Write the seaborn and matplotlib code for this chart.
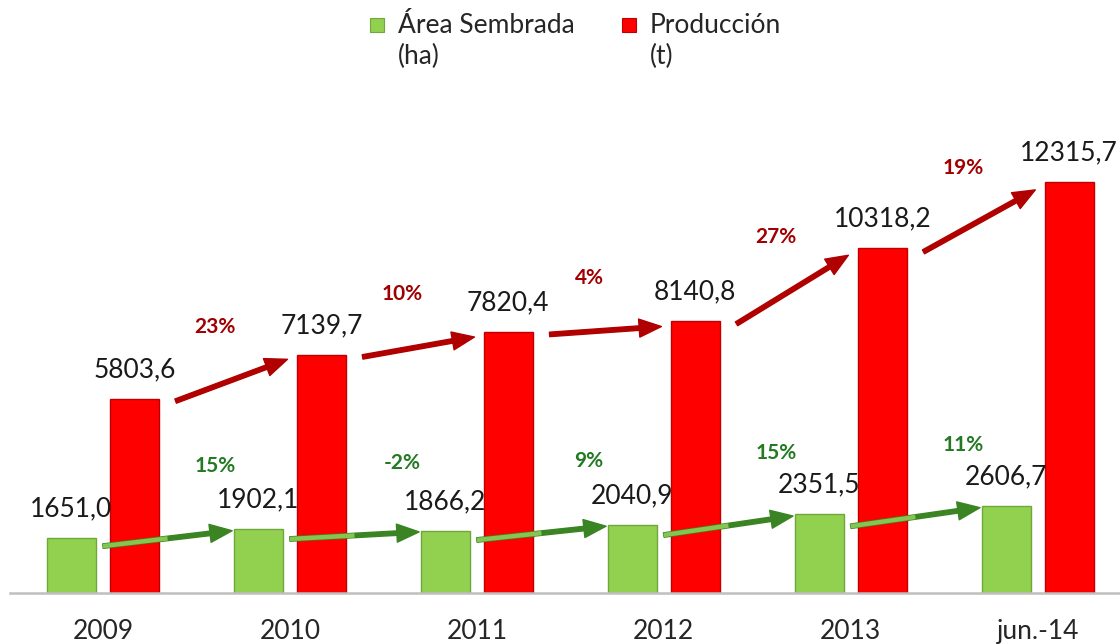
import pandas as pd
import numpy as np
import seaborn as sns
import matplotlib.pyplot as plt
from matplotlib.patches import Rectangle

# Data
periodos = ["2009", "2010", "2011", "2012", "2013", "jun.-14"]
area_sembrada = [1651.0, 1902.1, 1866.2, 2040.9, 2351.5, 2606.7]
produccion = [5803.6, 7139.7, 7820.4, 8140.8, 10318.2, 12315.7]
var_area = ["15%", "-2%", "9%", "15%", "11%"]
var_prod = ["23%", "10%", "4%", "27%", "19%"]
series = ["Área Sembrada (ha)", "Producción (t)"]

verde, rojo = "#92D050", "#FF0000"
verde_borde, rojo_borde = "#6FA83A", "#C00000"

df = pd.DataFrame({
    "periodo": periodos * 2,
    "valor": area_sembrada + produccion,
    "serie": [series[0]] * len(periodos) + [series[1]] * len(periodos),
})

sns.set_theme(style="white")
plt.rcParams["font.family"] = ["Lato", "DejaVu Sans"]

W, H = 1120, 644
fig = plt.figure(figsize=(W / 100, H / 100), dpi=100)
ax = fig.add_axes([10 / W, 51 / H, 1110 / W, 503 / H])

sns.barplot(data=df, x="periodo", y="valor", hue="serie", hue_order=series,
            palette=[verde, rojo], saturation=1, width=0.674, gap=0.22,
            legend=False, ax=ax)

for cont, borde in zip(ax.containers, [verde_borde, rojo_borde]):
    for p in cont:
        p.set_edgecolor(borde)
        p.set_linewidth(1.0)

fmt = lambda v: f"{v:.1f}".replace(".", ",")
ax.bar_label(ax.containers[0], labels=[fmt(v) for v in area_sembrada],
             padding=12, fontsize=19, color="#1a1a1a")
ax.bar_label(ax.containers[1], labels=[fmt(v) for v in produccion],
             padding=12, fontsize=19, color="#1a1a1a")

ax.set_xlim(-0.497, 5.44)
ax.set_ylim(0, 15060)
ax.set_xlabel("")
ax.set_ylabel("")
ax.set_yticks([])
ax.tick_params(axis="x", length=0, pad=19, labelsize=19, labelcolor="#262626")
for s in ["top", "left", "right"]:
    ax.spines[s].set_visible(False)
ax.spines["bottom"].set_color("#BFBFBF")
ax.spines["bottom"].set_linewidth(1.8)

off = 0.168
# arrows for production
for i in range(len(produccion) - 1):
    tail = (i + off + 0.131 + 0.09, produccion[i] * 0.99)
    head = (i + 1 + off - 0.131 - 0.05, produccion[i + 1] * 0.98)
    ax.annotate("", xy=head, xytext=tail, zorder=5,
                arrowprops=dict(arrowstyle="simple,head_length=0.8,head_width=0.65,tail_width=0.16",
                                color="#B00000", mutation_scale=20, shrinkA=0, shrinkB=0))
    ax.annotate(var_prod[i], xy=(i + 0.6, (tail[1] + head[1]) / 2), xytext=(0, 38),
                textcoords="offset points", ha="center", va="center",
                fontsize=15, fontweight="bold", color="#A00000")

# arrows for sown area
for i in range(len(area_sembrada) - 1):
    tail = (i + 0.0, area_sembrada[i] * 0.85)
    head = (i + 1 - off - 0.131 - 0.01, area_sembrada[i + 1] * 0.98)
    ax.annotate("", xy=head, xytext=tail, zorder=5,
                arrowprops=dict(arrowstyle="simple,head_length=0.8,head_width=0.65,tail_width=0.16",
                                color="#3A8424", mutation_scale=20, shrinkA=0, shrinkB=0))
    mid = (tail[0] + 0.5 * (head[0] - tail[0]), tail[1] + 0.5 * (head[1] - tail[1]))
    ax.plot([tail[0], mid[0]], [tail[1], mid[1]], color="#86C550", lw=3.2,
            solid_capstyle="butt", zorder=6)
    ax.annotate(var_area[i], xy=(i + 0.6, (tail[1] + head[1]) / 2), xytext=(0, 52),
                textcoords="offset points", ha="center", va="center",
                fontsize=15, fontweight="bold", color="#237A23")

# legend
for x0, col, borde, l1, l2 in [(370, verde, verde_borde, "Área Sembrada", "(ha)"),
                               (622, rojo, rojo_borde, "Producción", "(t)")]:
    fig.add_artist(Rectangle((x0 / W, (H - 32) / H), 14 / W, 14 / H,
                             transform=fig.transFigure, facecolor=col,
                             edgecolor=borde, lw=0.8))
    fig.text((x0 + 28) / W, (H - 33) / H, l1, fontsize=19, va="baseline", color="#262626")
    fig.text((x0 + 28) / W, (H - 64) / H, l2, fontsize=19, va="baseline", color="#262626")

fig.savefig("out.png", dpi=100)
